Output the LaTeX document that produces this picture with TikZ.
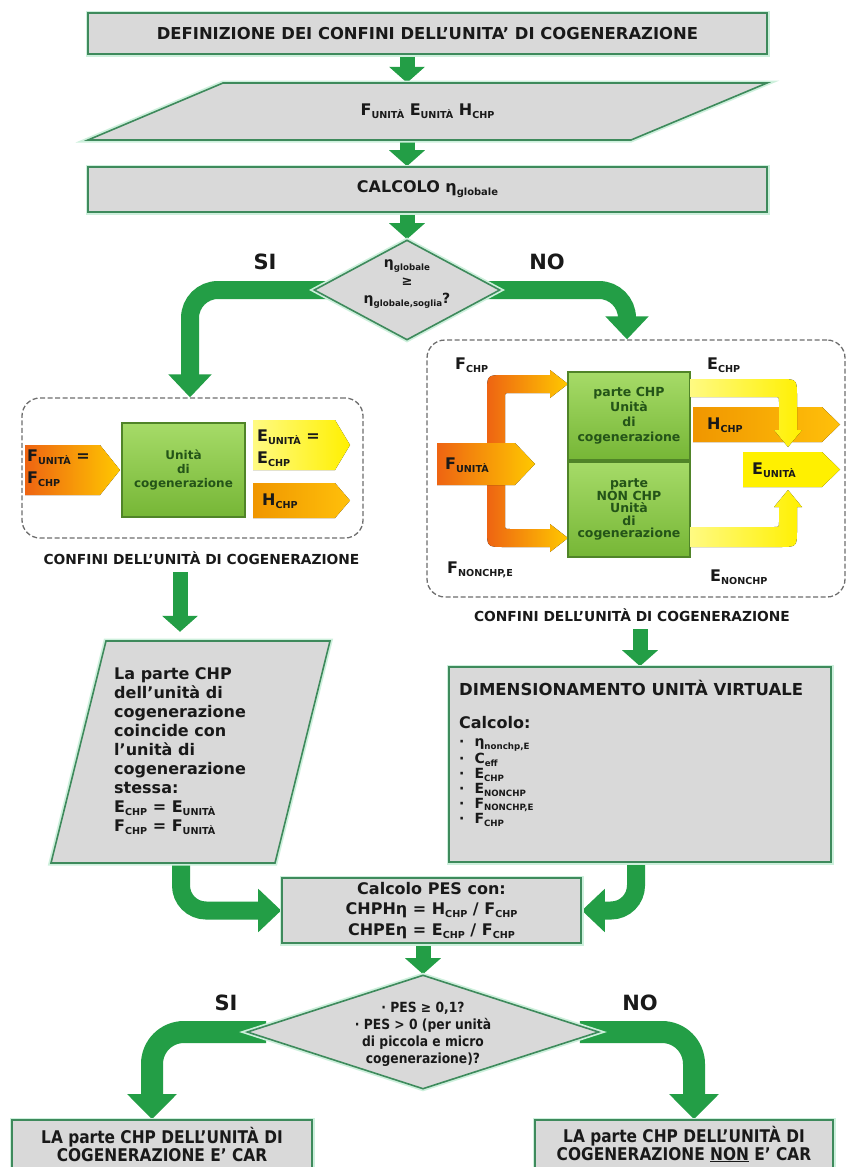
\documentclass[tikz,border=0pt]{standalone}
\usepackage{fontspec}
\setmainfont{DejaVu Sans}
\newfontfamily\narrowfont{DejaVu Sans}[FakeStretch=0.88]
\usetikzlibrary{arrows.meta,shapes.geometric}
\pgfdeclarelayer{back}
\pgfsetlayers{back,main}
\definecolor{boxgray}{RGB}{217,217,217}
\definecolor{boxline}{RGB}{62,138,92}
\definecolor{halo}{RGB}{205,240,220}
\definecolor{arrowgreen}{RGB}{35,158,70}
\definecolor{txt}{RGB}{25,25,25}
\definecolor{unitA}{RGB}{166,219,104}
\definecolor{unitB}{RGB}{118,182,54}
\definecolor{unitline}{RGB}{80,132,40}
\definecolor{unittext}{RGB}{36,84,24}
\definecolor{orangeA}{RGB}{238,100,18}
\definecolor{orangeB}{RGB}{255,200,0}
\definecolor{yelA}{RGB}{255,250,130}
\definecolor{yelB}{RGB}{255,240,0}
\definecolor{hA}{RGB}{240,150,0}
\definecolor{hB}{RGB}{255,192,10}
\definecolor{dashgray}{RGB}{110,110,110}
\newcommand{\fsz}[2]{\fontsize{#1}{#2}\selectfont}
\newcommand{\sbx}[1]{\raisebox{-0.35ex}{\scalebox{0.6}{#1}}}
\newcommand{\sbxx}[2]{\raisebox{-0.35ex}{\scalebox{#1}{#2}}}
\begin{document}
\begin{tikzpicture}[x=1pt,y=-1pt,
  gbox/.style={draw=boxline, line width=1.6pt, fill=boxgray, preaction={draw=halo, line width=5pt}, inner sep=0pt, text=txt},
  pbox/.style={draw=boxline, line width=1.6pt, fill=boxgray, preaction={draw=halo, line width=5pt}},
  ddia/.style={diamond, draw=boxline, line width=1.6pt, fill=boxgray, preaction={draw=halo, line width=5pt}, inner sep=0pt},
  dashbox/.style={draw=dashgray, dash pattern=on 5pt off 2.5pt, line width=1.3pt, rounded corners=18pt, inner sep=0pt},
  unitbox/.style={draw=unitline, line width=1.2pt, top color=unitA, bottom color=unitB, text=unittext, align=center, inner sep=0pt},
  lbl/.style={font=\bfseries\fsz{21}{24}, text=txt},
  flab/.style={font=\bfseries\fsz{16}{22}, text=txt, inner sep=0pt, align=left},
  captxt/.style={font=\bfseries\fsz{13.8}{16}, text=txt},
  bitem/.style={font=\bfseries\fsz{14}{14}, text=txt, anchor=west, inner sep=0pt},
  sarrow/.style={draw=arrowgreen, line width=15pt, -{Triangle[width=35pt,length=16pt]}},
  carrow/.style={draw=arrowgreen, line width=18pt, rounded corners=28pt, -{Triangle[width=42pt,length=23pt]}},
  barrow/.style={draw=arrowgreen, line width=22pt, rounded corners=32pt, -{Triangle[width=48pt,length=25pt]}}
]
\useasboundingbox (0,0) rectangle (847,1167);
\begin{pgfonlayer}{back}
\fill[white] (0,0) rectangle (847,1167);
\end{pgfonlayer}

% ---------- top ----------
\node[gbox, minimum width=679pt, minimum height=41pt, font=\bfseries\fsz{16.4}{20}] (def) at (427.5,33.5) {DEFINIZIONE DEI CONFINI DELL’UNITA’ DI COGENERAZIONE};
\filldraw[pbox] (223,83) -- (767,83) -- (631,140) -- (88,140) -- cycle;
\node[minimum width=543pt, minimum height=57pt, inner sep=0pt, font=\bfseries\fsz{16}{20}, text=txt] (inp) at (427.5,111.5) {F\sbx{UNITÀ} E\sbx{UNITÀ} H\sbx{CHP}};
\node[gbox, minimum width=679pt, minimum height=45pt, font=\bfseries\fsz{16}{20}] (calc) at (427.5,189.5) {CALCOLO η\sbxx{0.62}{globale}};
\node[ddia, minimum width=186pt, minimum height=100pt] (dia) at (407,290) {};
\node[align=center, font=\bfseries\fsz{14}{18}, text=txt, inner sep=0pt] (diatxt) at (407,284) {η\sbxx{0.62}{globale}\\{\fsz{13}{13}≥}\\η\sbxx{0.62}{globale,soglia}?};
\node[lbl] (si1) at (265,262) {SI};
\node[lbl] (no1) at (547,262) {NO};

% ---------- dashed boundaries ----------
\node[dashbox, minimum width=341pt, minimum height=140pt] (ldash) at (192.5,468) {};
\node[dashbox, minimum width=418pt, minimum height=257pt] (rdash) at (636,468.5) {};

% left boundary content
\fill[left color=orangeA, right color=orangeB] (25,445) -- (100,445) -- (120,470) -- (100,495) -- (25,495) -- cycle;
\node[flab, anchor=west] (lfl) at (27,468.5) {F\sbx{UNITÀ} =\\F\sbx{CHP}};
\node[unitbox, minimum width=123pt, minimum height=94pt, font=\bfseries\fsz{12}{14}] (lunit) at (183.5,470) {Unità\\di\\cogenerazione};
\fill[left color=yelA, right color=yelB] (253,420) -- (335,420) -- (350,445) -- (335,470) -- (253,470) -- cycle;
\node[flab, anchor=west] (lel) at (257,448) {E\sbx{UNITÀ} =\\E\sbx{CHP}};
\fill[left color=hA, right color=hB] (253,483) -- (335,483) -- (350,500.5) -- (335,518) -- (253,518) -- cycle;
\node[flab, anchor=west] (lhl) at (262,501) {H\sbx{CHP}};

% right boundary content
\fill[left color=orangeA, right color=orangeB]
  (550,375) -- (550,370) -- (568,384) -- (550,398) -- (550,393)
  -- (510,393) .. controls (505,393) .. (505,398)
  -- (505,524) .. controls (505,529) .. (510,529)
  -- (550,529) -- (550,524) -- (568,538) -- (550,552) -- (550,547)
  -- (505,547) .. controls (487,547) .. (487,529)
  -- (487,393) .. controls (487,375) .. (505,375) -- cycle;
\fill[left color=orangeA, right color=orangeB] (437,443) -- (515,443) -- (535,464) -- (515,485) -- (437,485) -- cycle;
\node[flab, anchor=west] (rfu) at (445,465) {F\sbx{UNITÀ}};
\node[unitbox, minimum width=122pt, minimum height=88pt, font=\bfseries\fsz{12.5}{15}] (ruchp) at (629,416) {parte CHP\\Unità\\di\\cogenerazione};
\node[unitbox, minimum width=122pt, minimum height=95pt, font=\bfseries\fsz{12.5}{12.5}] (runon) at (629,509.5) {parte\\NON CHP\\Unità\\di\\cogenerazione};
\fill[left color=hA, right color=hB] (693,407) -- (822,407) -- (840,424.5) -- (822,442) -- (693,442) -- cycle;
\node[flab, anchor=west] (rhl) at (707,425) {H\sbx{CHP}};
\fill[left color=yelA, right color=yelB]
  (690,379) -- (779,379) .. controls (797,379) .. (797,397) -- (797,430) -- (802,430)
  -- (788,447) -- (774,430) -- (779,430) -- (779,402) .. controls (779,397) .. (774,397) -- (690,397) -- cycle;
\fill[left color=yelA, right color=yelB]
  (690,547) -- (779,547) .. controls (797,547) .. (797,529) -- (797,507) -- (802,507)
  -- (788,490) -- (774,507) -- (779,507) -- (779,522) .. controls (779,527) .. (774,527) -- (690,527) -- cycle;
\fill[left color=yelB, right color=yelB] (743,452) -- (822,452) -- (840,469.5) -- (822,487) -- (743,487) -- cycle;
\node[flab, anchor=west] (reu) at (752,470) {E\sbx{UNITÀ}};
\node[flab, anchor=west] (rfchp) at (455,365) {F\sbx{CHP}};
\node[flab, anchor=west] (rechp) at (707,365) {E\sbx{CHP}};
\node[flab, anchor=west] (rfnon) at (447,570) {F\sbx{NONCHP,E}};
\node[flab, anchor=west] (renon) at (710,577) {E\sbx{NONCHP}};

% captions
\node[captxt] (lcap) at (201.5,558) {CONFINI DELL’UNITÀ DI COGENERAZIONE};
\node[captxt] (rcap) at (632,615) {CONFINI DELL’UNITÀ DI COGENERAZIONE};

% ---------- middle ----------
\filldraw[pbox] (106,641) -- (330,641) -- (275,863) -- (51,863) -- cycle;
\node[minimum width=224pt, minimum height=222pt, inner sep=0pt] (lpar) at (190.5,752) {};
\node[anchor=north west, align=left, font=\bfseries\fsz{16}{19}, text=txt, inner sep=0pt] (lpartxt) at (114,667) {La parte CHP\\dell’unità di\\cogenerazione\\coincide con\\l’unità di\\cogenerazione\\stessa:\\E\sbx{CHP} = E\sbx{UNITÀ}\\F\sbx{CHP} = F\sbx{UNITÀ}};

\node[gbox, minimum width=382pt, minimum height=195pt] (dim) at (640,764.5) {};
\node[anchor=west, font=\bfseries\fsz{16.5}{20}, text=txt, inner sep=0pt] (dimh) at (459,688) {DIMENSIONAMENTO UNITÀ VIRTUALE};
\node[anchor=west, font=\bfseries\fsz{16}{20}, text=txt, inner sep=0pt] (dimc) at (459,723) {Calcolo:};
\node[bitem] (b1) at (459,745) {·\hskip 10pt η\sbxx{0.62}{nonchp,E}};
\node[bitem] (b2) at (459,760) {·\hskip 10pt C\sbxx{0.62}{eff}};
\node[bitem] (b3) at (459,775) {·\hskip 10pt E\sbxx{0.62}{CHP}};
\node[bitem] (b4) at (459,790) {·\hskip 10pt E\sbxx{0.62}{NONCHP}};
\node[bitem] (b5) at (459,805) {·\hskip 10pt F\sbxx{0.62}{NONCHP,E}};
\node[bitem] (b6) at (459,820) {·\hskip 10pt F\sbxx{0.62}{CHP}};

\node[gbox, minimum width=299pt, minimum height=65pt, align=center, font=\bfseries\fsz{16}{20.5}] (pes) at (431.5,910.5) {Calcolo PES con:\\CHPHη = H\sbx{CHP} / F\sbx{CHP}\\CHPEη = E\sbx{CHP} / F\sbx{CHP}};

% ---------- bottom ----------
\node[ddia, minimum width=352pt, minimum height=114pt] (dia2) at (423,1032) {};
\node[align=center, font=\narrowfont\bfseries\fsz{14}{17}, text=txt, inner sep=0pt] (dia2txt) at (423,1034) {· PES ≥ 0,1?\\· PES > 0 (per unità\\di piccola e micro\\cogenerazione)?};
\node[lbl] (si2) at (226,1003) {SI};
\node[lbl] (no2) at (640,1003) {NO};

\node[gbox, minimum width=300pt, minimum height=68pt] (lb) at (162,1154) {};
\node[align=center, font=\narrowfont\bfseries\fsz{17.5}{18}, text=txt, inner sep=0pt] (lbt) at (162,1144) {LA parte CHP DELL’UNITÀ DI\\COGENERAZIONE E’ CAR};
\node[gbox, minimum width=298pt, minimum height=68pt] (rb) at (684,1154) {};
\node[align=center, font=\narrowfont\bfseries\fsz{17.5}{18}, text=txt, inner sep=0pt] (rbt) at (684,1144) {LA parte CHP DELL’UNITÀ DI\\COGENERAZIONE \underline{NON} E’ CAR};

% ---------- connectors ----------
\begin{pgfonlayer}{back}
\draw[sarrow] (def.south -| dia.north) -- (inp.north -| dia.north);
\draw[sarrow] (inp.south -| dia.north) -- (calc.north -| dia.north);
\draw[sarrow] (calc.south -| dia.north) -- (dia.north);
\draw[carrow] ([xshift=20pt]dia.west) -| ([xshift=-2.5pt]ldash.north);
\draw[carrow] ([xshift=-20pt]dia.east) -| ([xshift=-9pt]rdash.north);
\draw[sarrow] ([xshift=-21.5pt,yshift=-4pt]lcap.south) -- ([xshift=-10.5pt,yshift=9pt]lpar.north);
\draw[sarrow] ([yshift=-4pt]rcap.south -| dim.north) -- (dim.north);
\draw[carrow, rounded corners=25pt] ([xshift=-9.5pt]lpar.south) |- (pes.west);
\draw[carrow, rounded corners=25pt] ([xshift=-4pt]dim.south) |- (pes.east);
\draw[sarrow] (pes.south -| dia2.north) -- (dia2.north);
\draw[barrow] ([xshift=20pt]dia2.west) -| ([xshift=-10pt]lb.north);
\draw[barrow] ([xshift=-20pt]dia2.east) -| ([xshift=10pt]rb.north);
\end{pgfonlayer}
\end{tikzpicture}
\end{document}
